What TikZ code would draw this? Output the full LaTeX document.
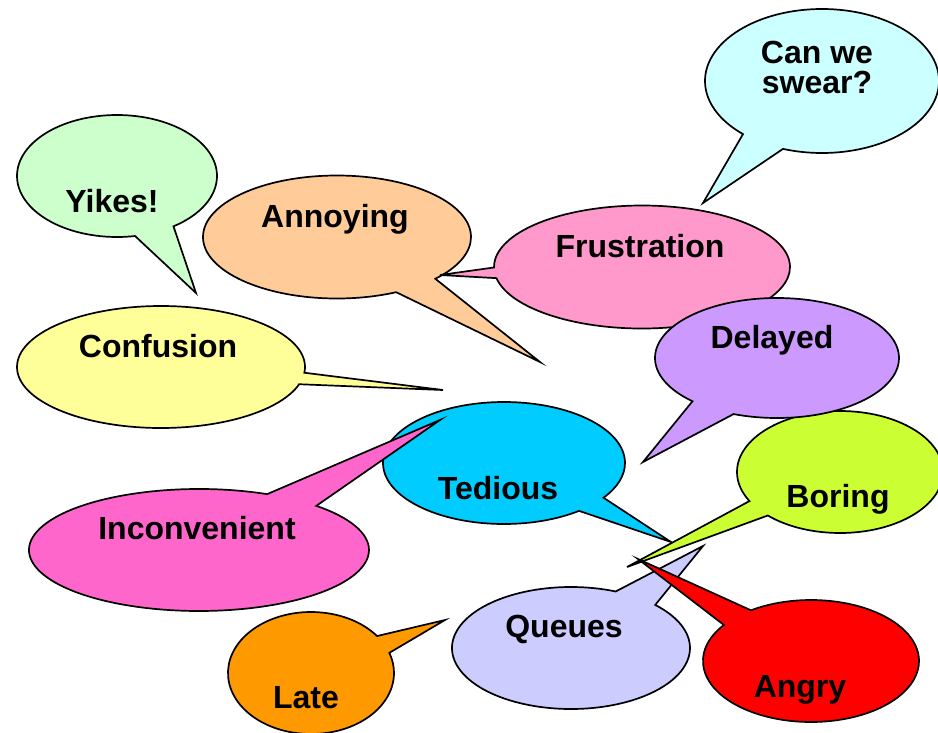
\documentclass[tikz,border=0pt]{standalone}
\usepackage{fontspec}
\setmainfont{Liberation Sans}
\usetikzlibrary{shapes.callouts}
\definecolor{yikesC}{HTML}{CCFFCC}
\definecolor{annoyC}{HTML}{FFCC99}
\definecolor{confC}{HTML}{FFFF99}
\definecolor{swearC}{HTML}{CCFFFF}
\definecolor{frustC}{HTML}{FF99CC}
\definecolor{delayC}{HTML}{CC99FF}
\definecolor{tedC}{HTML}{00CCFF}
\definecolor{inconC}{HTML}{FF66CC}
\definecolor{lateC}{HTML}{FF9900}
\definecolor{queueC}{HTML}{CCCCFF}
\definecolor{boreC}{HTML}{CCFF33}
\definecolor{angryC}{HTML}{FF0000}
\tikzstyle{bubble} = [draw, ellipse callout, line width=1.7pt, inner sep=0pt, outer sep=0pt]
\tikzstyle{word} = [font=\fontsize{32}{30}\selectfont\bfseries, anchor=base, align=center, inner sep=0pt]

\begin{document}
\begin{tikzpicture}[x=1pt, y=-1pt]
	\useasboundingbox (0,0) rectangle (938,732);
	\clip (0,0) rectangle (938,732);
	\node[bubble, fill=yikesC, minimum width=200, minimum height=122, callout pointer arc=24, callout absolute pointer={(196,293)}] (yikes) at (117,176){};
	\node[word] (yikesT) at (112,212){Yikes!};
	\node[bubble, fill=confC, minimum width=288, minimum height=122, callout pointer arc=11, callout absolute pointer={(443,390)}] (conf) at (161,367){};
	\node[word] (confT) at (158,357){Confusion};
	\node[bubble, fill=annoyC, minimum width=268, minimum height=123, callout pointer arc=21, callout absolute pointer={(540,362)}] (annoy) at (337,237){};
	\node[word] (annoyT) at (335,227){Annoying};
	\node[bubble, fill=swearC, minimum width=234, minimum height=144, callout pointer arc=23, callout absolute pointer={(703,203)}] (swear) at (822,81){};
	\node[word, anchor=north] (swearT) at (817,41){Can we\\swear?};
	\node[bubble, fill=frustC, minimum width=296, minimum height=123, callout pointer arc=10, callout absolute pointer={(440,275)}] (frust) at (642,267){};
	\node[word] (frustT) at (640,257){Frustration};
	\node[bubble, fill=tedC, minimum width=242, minimum height=122, callout pointer arc=17, callout absolute pointer={(671,542)}] (ted) at (504,463){};
	\node[word] (tedT) at (498,499){Tedious};
	\node[bubble, fill=inconC, minimum width=340, minimum height=122, callout pointer arc=20, callout absolute pointer={(440,420)}] (incon) at (199,550){};
	\node[word] (inconT) at (197,539){Inconvenient};
	\node[bubble, fill=queueC, minimum width=238, minimum height=122, callout pointer arc=23, callout absolute pointer={(703,546)}] (queue) at (571,648){};
	\node[word] (queueT) at (564,637){Queues};
	\node[bubble, fill=boreC, minimum width=206, minimum height=122, callout pointer arc=17, callout absolute pointer={(627,567)}] (bore) at (840,472){};
	\node[word] (boreT) at (838,507){Boring};
	\node[bubble, fill=delayC, minimum width=244, minimum height=120, callout pointer arc=23, callout absolute pointer={(643,462)}] (delay) at (777,358){};
	\node[word] (delayT) at (772,348){Delayed};
	\node[bubble, fill=angryC, minimum width=216, minimum height=122, callout pointer arc=20, callout absolute pointer={(638,559)}] (angry) at (811,661){};
	\node[word] (angryT) at (800,697){Angry};
	\node[bubble, fill=lateC, minimum width=166, minimum height=122, callout pointer arc=18, callout absolute pointer={(445,620)}] (late) at (311,673){};
	\node[word] (lateT) at (306,708){Late};
\end{tikzpicture}
\end{document}
